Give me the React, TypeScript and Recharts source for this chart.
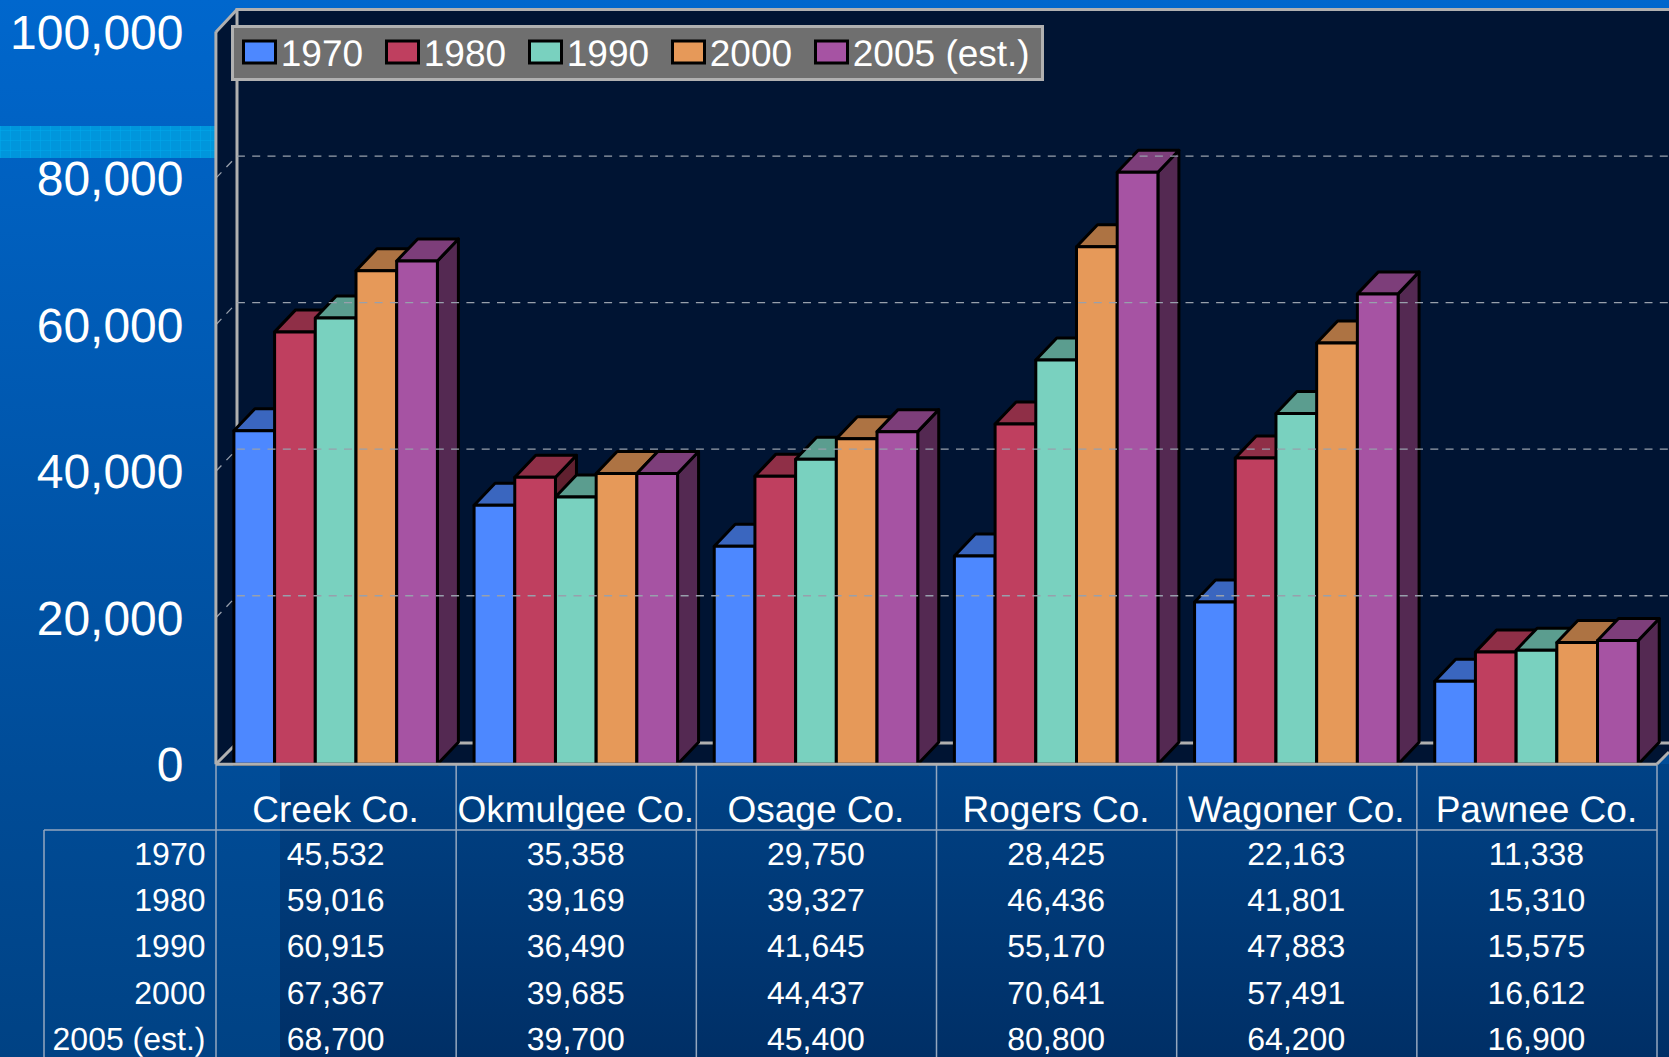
import React from 'react';
import { Bar, BarChart, Legend, ReferenceLine, XAxis, YAxis } from 'recharts';

const counties = ['Creek Co.', 'Okmulgee Co.', 'Osage Co.', 'Rogers Co.', 'Wagoner Co.', 'Pawnee Co.'];
const seriesNames = ['1970', '1980', '1990', '2000', '2005 (est.)'];
const values1970 = [45532, 35358, 29750, 28425, 22163, 11338];
const values1980 = [59016, 39169, 39327, 46436, 41801, 15310];
const values1990 = [60915, 36490, 41645, 55170, 47883, 15575];
const values2000 = [67367, 39685, 44437, 70641, 57491, 16612];
const values2005 = [68700, 39700, 45400, 80800, 64200, 16900];
const allValues = [values1970, values1980, values1990, values2000, values2005];
const yTicks = [0, 20000, 40000, 60000, 80000, 100000];

const frontColors = ['#4d88ff', '#bf3f5f', '#79d1bf', '#e69959', '#a653a3'];
const topColors = ['#3a66bf', '#8f2f47', '#5b9d8f', '#ad7343', '#7d3e7a'];
const sideColors = ['#27448a', '#60202f', '#3d6960', '#734d2d', '#542952'];

const W = 1669;
const H = 1057;
const LEFT = 215.9;
const RIGHT = 1656.9;
const TOP = 31.6;
const FLOOR = 764.3;
const DEPTH_X = 21;
const DEPTH_Y = 22;
const WALL_TOP = 9.5;
const BAND = 240.17;
const FONT = '"Liberation Sans", Arial, sans-serif';
const GREY = '#b0b0b0';

const data = counties.map((name, i) => {
  const row: Record<string, string | number> = { name };
  seriesNames.forEach((s, j) => {
    row[s] = allValues[j][i];
  });
  return row;
});

const rowBaseline = (i: number) => 864.6 + i * 46.4;

const Bar3D = (index: number) => (props: any) => {
  const { x, y, width, height } = props;
  const base = y + height;
  const bx = x + DEPTH_X;
  const by = y - DEPTH_Y;
  return (
    <g stroke="#000" strokeWidth={3} strokeLinejoin="round">
      <polygon
        points={`${x + width},${y} ${bx + width},${by} ${bx + width},${base - DEPTH_Y} ${x + width},${base}`}
        fill={sideColors[index]}
      />
      <polygon points={`${x},${y} ${bx},${by} ${bx + width},${by} ${x + width},${y}`} fill={topColors[index]} />
      <rect x={x} y={y} width={width} height={height} fill={frontColors[index]} />
    </g>
  );
};

// back wall line plus the little dashed run across the side wall
const WallLine = (props: any) => {
  const { x1, y1, x2 } = props;
  return (
    <g stroke="#98a0ac" strokeWidth={1.3} strokeDasharray="8 7.3" fill="none">
      <line x1={x1 + DEPTH_X} y1={y1 - DEPTH_Y} x2={x2 + DEPTH_X} y2={y1 - DEPTH_Y} />
      <line x1={x1} y1={y1} x2={x1 + DEPTH_X} y2={y1 - DEPTH_Y} />
    </g>
  );
};

const CountyTick = (props: any) => {
  const { x, y, payload, index } = props;
  const i = payload.index ?? index;
  return (
    <g fontFamily={FONT} fill="#fff" textAnchor="middle">
      <text x={x - 0.4} y={y + 58} fontSize={37}>{payload.value}</text>
      {allValues.map((vals, r) => (
        <text key={r} x={x - 0.4} y={rowBaseline(r)} fontSize={32}>{vals[i].toLocaleString('en-US')}</text>
      ))}
    </g>
  );
};

const LegendBox = ({ payload }: any) => (
  <svg width={813} height={56} style={{ display: 'block' }}>
    <rect x={1.5} y={1.5} width={810} height={53} fill="#6f6f6f" stroke={GREY} strokeWidth={3} />
    {(payload || []).map((item: any, i: number) => (
      <g key={item.value}>
        <rect x={12.5 + i * 143} y={16} width={32} height={22} fill={frontColors[i]} stroke="#000" strokeWidth={3} />
        <text x={49.8 + i * 143} y={41} fontSize={37} fontFamily={FONT} fill="#fff">{item.value}</text>
      </g>
    ))}
  </svg>
);

const Backdrop = () => {
  const tableLines = counties.map((_, i) => 216 + i * BAND).concat(1657);
  return (
    <svg width={W} height={H} style={{ position: 'absolute', left: 0, top: 0 }}>
      <defs>
        <linearGradient id="page" x1="0" y1="0" x2="0" y2="1">
          <stop offset="0" stopColor="#0067cd" />
          <stop offset="1" stopColor="#004284" />
        </linearGradient>
        <linearGradient id="panel" x1="0" y1="0" x2="0" y2="1">
          <stop offset="0" stopColor="#004286" />
          <stop offset="1" stopColor="#002f66" />
        </linearGradient>
        <pattern id="mesh" width="10" height="10" patternUnits="userSpaceOnUse">
          <rect width="10" height="10" fill="#0096dc" />
          <path d="M0 0H10M0 0V10" stroke="#00aaec" strokeWidth="1" />
        </pattern>
      </defs>
      <rect width={W} height={H} fill="url(#page)" />
      <rect x={280} y={764} width={W - 280} height={H - 764} fill="url(#panel)" />
      <rect x={0} y={126} width={216} height={32} fill="url(#mesh)" />
      {/* walls and floor */}
      <polygon points={`216,32 237,${WALL_TOP} ${W},${WALL_TOP} ${W},752 1657,764 216,764`} fill="#001433" />
      <g stroke={GREY} strokeWidth={3} fill="none">
        <path d={`M216 764L237 743H${W}`} />
        <path d={`M237 743V${WALL_TOP}H${W}`} />
        <path d={`M216 32L237 ${WALL_TOP}`} />
        <path d={`M1657 764L${W} 752`} />
      </g>
      {/* table rules */}
      <g stroke="#94a7bf" strokeWidth={1.5}>
        <line x1={44} y1={830} x2={1657} y2={830} />
        <line x1={44} y1={830} x2={44} y2={H} />
        {tableLines.map((x) => (
          <line key={x} x1={x} y1={764} x2={x} y2={H} />
        ))}
      </g>
      <g fontFamily={FONT} fontSize={32} fill="#fff" textAnchor="end">
        {seriesNames.map((s, r) => (
          <text key={s} x={205.5} y={rowBaseline(r)}>{s}</text>
        ))}
      </g>
    </svg>
  );
};

const App: React.FC = () => (
  <div
    style={{
      position: 'absolute',
      left: 0,
      top: 0,
      width: W,
      height: H,
      overflow: 'hidden',
      textRendering: 'geometricPrecision',
    }}
  >
    <Backdrop />
    <div style={{ position: 'absolute', left: 0, top: 0 }}>
      <BarChart
        width={W}
        height={H}
        data={data}
        margin={{ top: TOP, right: W - RIGHT, bottom: 0, left: 0 }}
        barSize={40.7}
        barGap={0}
      >
        <XAxis
          dataKey="name"
          height={H - FLOOR}
          interval={0}
          tickLine={false}
          tickSize={0}
          tickMargin={0}
          axisLine={{ stroke: GREY, strokeWidth: 3 }}
          tick={<CountyTick />}
        />
        <YAxis
          width={LEFT}
          domain={[0, 100000]}
          ticks={yTicks}
          interval={0}
          tickLine={false}
          tickSize={0}
          tickMargin={32.4}
          axisLine={{ stroke: GREY, strokeWidth: 3 }}
          tick={{ fill: '#fff', fontSize: 48, fontFamily: FONT }}
          tickFormatter={(v: number) => v.toLocaleString('en-US')}
        />
        {yTicks.slice(1, -1).map((v) => (
          <ReferenceLine key={v} y={v} shape={WallLine} />
        ))}
        <Legend
          verticalAlign="middle"
          content={<LegendBox />}
          wrapperStyle={{ position: 'absolute', left: 230.5, top: 25, width: 813, height: 56 }}
        />
        {seriesNames.map((s, i) => (
          <Bar key={s} dataKey={s} fill={frontColors[i]} isAnimationActive={false} shape={Bar3D(i)} />
        ))}
      </BarChart>
    </div>
  </div>
);

export default App;
